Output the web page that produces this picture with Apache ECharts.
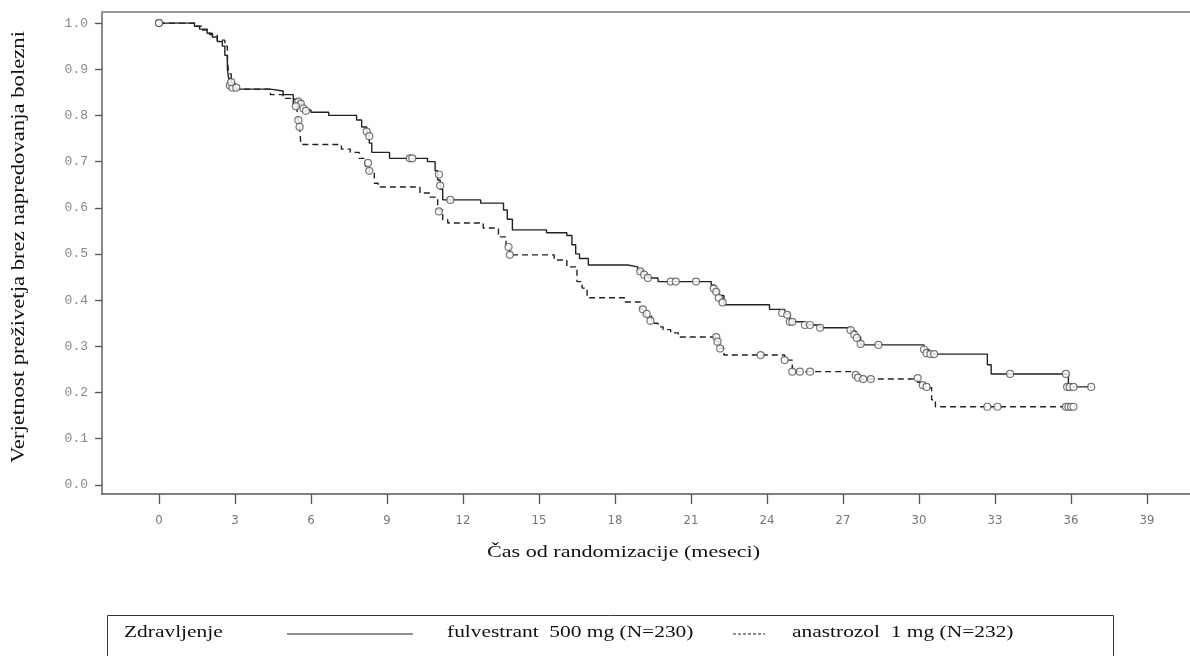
<!DOCTYPE html>
<html>
<head>
<meta charset="utf-8">
<script src="https://cdn.jsdelivr.net/npm/echarts@6/dist/echarts.min.js"></script>
<style>
html,body{margin:0;padding:0;background:#fff;}
#chart{width:1190px;height:656px;}
</style>
</head>
<body>
<div id="chart"></div>
<script>
// ---- data (time in months, survival probability) ----
const xTickValues = [0,3,6,9,12,15,18,21,24,27,30,33,36,39];
const yTickValues = [0,0.1,0.2,0.3,0.4,0.5,0.6,0.7,0.8,0.9,1.0];

const fulvestrantSteps = [
  [0,1.0],[1.4,0.993],[1.6,0.987],[1.9,0.978],[2.1,0.97],[2.3,0.96],[2.5,0.95],[2.6,0.93],[2.7,0.90],
  [2.75,0.88],[2.85,0.865],[3.0,0.857],[4.4,0.853],[4.9,0.845],[5.3,0.835],[5.5,0.825],[5.7,0.812],
  [6.0,0.807],[6.7,0.80],[7.8,0.79],[8.0,0.775],[8.2,0.762],[8.3,0.74],[8.4,0.72],[9.1,0.707],
  [10.6,0.70],[10.9,0.68],[11.0,0.66],[11.1,0.64],[11.2,0.617],[12.7,0.61],[13.6,0.595],[13.75,0.575],
  [13.95,0.552],[15.3,0.546],[16.1,0.54],[16.3,0.52],[16.45,0.50],[16.6,0.49],[16.95,0.476],
  [18.5,0.472],[18.9,0.465],[19.1,0.455],[19.3,0.448],[19.7,0.44],[21.8,0.432],[21.95,0.42],
  [22.1,0.41],[22.3,0.39],[24.1,0.38],[24.7,0.37],[24.9,0.353],[25.5,0.346],[26.1,0.34],[27.3,0.333],
  [27.5,0.32],[27.7,0.303],[30.2,0.293],[30.4,0.283],[32.7,0.26],[32.85,0.24],[35.9,0.212],[36.8,0.212]
];
const fulvestrantCensored = [
  [0,1.0],[2.8,0.865],[2.9,0.86],[5.5,0.83],[5.6,0.825],[5.7,0.815],[5.8,0.81],[8.2,0.765],[8.3,0.755],
  [9.9,0.707],[10.0,0.707],[11.05,0.672],[11.1,0.648],[11.5,0.617],[19.0,0.462],[19.15,0.455],[19.3,0.448],
  [20.2,0.44],[20.4,0.44],[21.2,0.44],[21.9,0.425],[22.0,0.418],[22.1,0.405],[22.25,0.395],[24.6,0.372],
  [24.8,0.368],[24.9,0.353],[25.0,0.353],[25.5,0.346],[25.7,0.346],[26.1,0.34],[27.3,0.335],[27.45,0.325],
  [27.55,0.318],[27.7,0.305],[28.4,0.303],[30.2,0.293],[30.3,0.285],[30.45,0.283],[30.6,0.283],
  [33.6,0.24],[35.8,0.24],[35.85,0.212],[35.95,0.212],[36.1,0.212],[36.8,0.212]
];
const anastrozolSteps = [
  [0,1.0],[1.4,0.993],[1.7,0.985],[2.0,0.975],[2.3,0.963],[2.6,0.95],[2.7,0.92],[2.75,0.89],[2.85,0.87],
  [3.0,0.857],[4.4,0.845],[4.9,0.837],[5.3,0.825],[5.45,0.81],[5.5,0.79],[5.55,0.775],[5.6,0.737],
  [7.2,0.727],[7.55,0.72],[7.9,0.707],[8.15,0.69],[8.3,0.675],[8.5,0.653],[8.65,0.645],[10.3,0.632],
  [10.7,0.623],[11.0,0.595],[11.2,0.574],[11.4,0.567],[12.8,0.556],[13.4,0.537],[13.7,0.515],[13.85,0.498],
  [15.6,0.487],[16.1,0.472],[16.5,0.44],[16.7,0.426],[16.9,0.405],[18.4,0.396],[19.0,0.38],[19.2,0.365],
  [19.45,0.35],[19.7,0.342],[19.9,0.336],[20.2,0.329],[20.5,0.32],[22.0,0.31],[22.1,0.295],[22.3,0.281],
  [24.7,0.27],[25.0,0.245],[27.4,0.238],[27.6,0.229],[29.95,0.222],[30.2,0.21],[30.5,0.184],[30.65,0.169],
  [36.1,0.169]
];
const anastrozolCensored = [
  [0,1.0],[2.85,0.872],[3.05,0.86],[5.4,0.82],[5.5,0.79],[5.55,0.775],[8.25,0.697],[8.3,0.68],[11.05,0.592],
  [13.8,0.515],[13.85,0.498],[19.1,0.38],[19.25,0.37],[19.4,0.355],[22.0,0.32],[22.05,0.31],[22.15,0.295],
  [23.75,0.281],[24.7,0.27],[25.0,0.245],[25.3,0.245],[25.7,0.245],[27.5,0.238],[27.6,0.232],[27.8,0.229],
  [28.1,0.229],[29.95,0.231],[30.15,0.216],[30.3,0.212],[32.7,0.169],[33.1,0.169],[35.8,0.169],[35.9,0.169],
  [36.0,0.169],[36.1,0.169]
];

const yTitle = 'Verjetnost preživetja brez napredovanja bolezni';
const xTitle = 'Čas od randomizacije (meseci)';
const legendTitle = 'Zdravljenje';
const seriesNames = ['fulvestrant  500 mg (N=230)', 'anastrozol  1 mg (N=232)'];

const chart = echarts.init(document.getElementById('chart'), null, {renderer: 'canvas'});
const censorStyle = {color: '#fff', borderColor: '#555', borderWidth: 1.2};
const serif = '"Liberation Serif", "DejaVu Serif", serif';

chart.setOption({
  animation: false,
  backgroundColor: '#fff',
  grid: {left: 102, top: 12, right: 0, bottom: 162, containLabel: false},
  xAxis: [{
    type: 'value', min: -2.25, max: 40.7, position: 'bottom',
    axisLine: {show: true, onZero: false, lineStyle: {color: '#555', width: 1.5}},
    axisTick: {show: true, customValues: xTickValues, length: 10, inside: false, lineStyle: {color: '#555', width: 1.3}},
    axisLabel: {show: true, customValues: xTickValues, margin: 20, color: '#777', fontSize: 13,
      fontFamily: '"Liberation Sans Narrow", "DejaVu Sans Condensed", sans-serif'},
    splitLine: {show: false}
  }, {
    type: 'value', min: -2.25, max: 40.7, position: 'top',
    axisLine: {show: true, onZero: false, lineStyle: {color: '#999', width: 2}},
    axisTick: {show: false}, axisLabel: {show: false}, splitLine: {show: false}
  }],
  yAxis: {
    type: 'value', min: -0.02, max: 1.024,
    axisLine: {show: true, onZero: false, lineStyle: {color: '#666', width: 1.5}},
    axisTick: {show: true, customValues: yTickValues, length: 7, lineStyle: {color: '#555', width: 1.3}},
    axisLabel: {show: true, customValues: yTickValues, margin: 14, color: '#888', fontSize: 13,
      fontFamily: '"Liberation Mono", "DejaVu Sans Mono", monospace',
      formatter: v => v.toFixed(1)},
    splitLine: {show: false}
  },
  series: [
    {name: seriesNames[0], type: 'line', step: 'end', data: fulvestrantSteps, showSymbol: false,
     lineStyle: {color: '#222', width: 1.4, type: 'solid'}, z: 3},
    {name: seriesNames[1], type: 'line', step: 'end', data: anastrozolSteps, showSymbol: false,
     lineStyle: {color: '#222', width: 1.4, type: [6, 4]}, z: 3},
    {type: 'scatter', data: fulvestrantCensored, symbol: 'circle', symbolSize: 7, itemStyle: censorStyle, z: 4},
    {type: 'scatter', data: anastrozolCensored, symbol: 'circle', symbolSize: 7, itemStyle: censorStyle, z: 4}
  ],
  graphic: [
    {type: 'text', x: 487, y: 553, scaleX: 1.3, style: {text: xTitle, fontSize: 17, fill: '#111',
      fontFamily: serif, textVerticalAlign: 'middle'}},
    {type: 'text', x: 10, y: 463, rotation: Math.PI / 2, scaleX: 1.26, style: {text: yTitle, fontSize: 18, fill: '#111',
      fontFamily: serif, textVerticalAlign: 'top'}},
    {type: 'rect', shape: {x: 107.5, y: 615.5, width: 1006, height: 60}, style: {fill: 'none', stroke: '#333', lineWidth: 1}},
    {type: 'text', x: 124, y: 633, scaleX: 1.26, style: {text: legendTitle, fontSize: 17, fill: '#111',
      fontFamily: serif, textVerticalAlign: 'middle'}},
    {type: 'line', shape: {x1: 287, y1: 634, x2: 413, y2: 634}, style: {stroke: '#222', lineWidth: 1.2}},
    {type: 'text', x: 447, y: 633, scaleX: 1.26, style: {text: seriesNames[0], fontSize: 17, fill: '#111',
      fontFamily: serif, textVerticalAlign: 'middle'}},
    {type: 'line', shape: {x1: 733, y1: 634, x2: 765, y2: 634}, style: {stroke: '#222', lineWidth: 1.2, lineDash: [3, 2]}},
    {type: 'text', x: 792, y: 633, scaleX: 1.26, style: {text: seriesNames[1], fontSize: 17, fill: '#111',
      fontFamily: serif, textVerticalAlign: 'middle'}}
  ]
});
</script>
</body>
</html>
